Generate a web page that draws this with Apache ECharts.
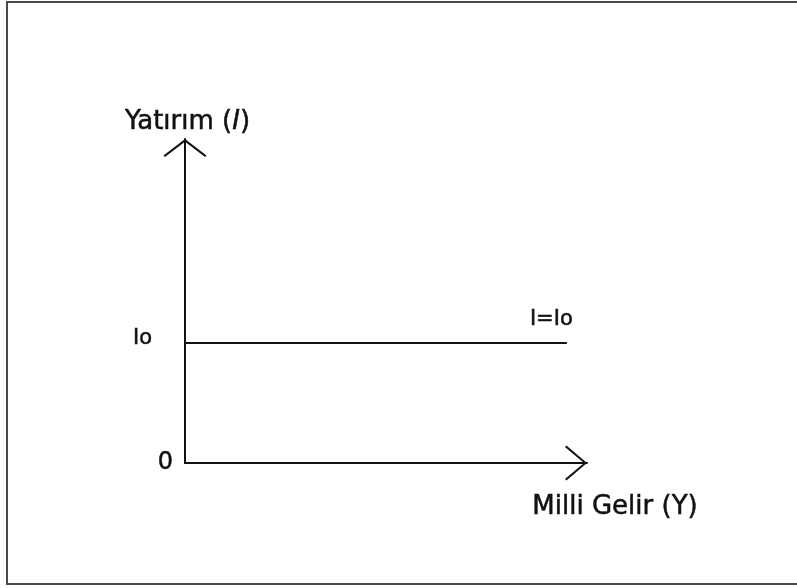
<!DOCTYPE html>
<html>
<head>
<meta charset="utf-8">
<script src="https://cdn.jsdelivr.net/npm/echarts@6/dist/echarts.min.js"></script>
<style>
  html, body { margin: 0; padding: 0; background: #fff; }
  #chart { width: 797px; height: 588px; }
</style>
</head>
<body>
<div id="chart"></div>
<script>
// scale of the sketch (arbitrary units)
const xRange = [0, 10];
const yRange = [0, 10];

// investment level Io and where the I=Io line stops
const ioLevel = 3.7;
const lineXs = [0, 9.5];

const yTickValues = [0, ioLevel];
const yTickLabels = ['0', '{io|Io}'];
const yName = 'Yatırım ({i|I})';
const xName = 'Milli Gelir (Y)';
const lineLabel = 'I=Io';

const ink = '#111';
const font = 'DejaVu Sans';
// a faint outline makes the text read a bit heavier, like the original
const heavy = { textBorderColor: ink, textBorderWidth: 0.5 };

// open chevron arrowheads, drawn pointing up
const yArrow = 'path://M21.5,0 L43,16.6 L41.6,18 L21.5,2.8 L1.4,18 L0,16.6 Z';
const xArrow = 'path://M17.5,0 L35,20.6 L33.6,22 L17.5,3 L1.4,22 L0,20.6 Z';

const chart = echarts.init(document.getElementById('chart'));

chart.setOption({
    animation: false,
    backgroundColor: '#fff',
    graphic: [
        {
            type: 'rect',
            shape: { x: 7, y: 2, width: 800, height: 582 },
            style: { fill: 'none', stroke: '#4a4a4a', lineWidth: 2 },
            silent: true,
        },
    ],
    grid: { left: 185, right: 210, top: 139, bottom: 125 },
    xAxis: {
        type: 'value',
        min: xRange[0],
        max: xRange[1],
        splitLine: { show: false },
        axisTick: { show: false },
        axisLabel: { show: false },
        axisLine: {
            show: true,
            onZero: false,
            symbol: ['none', xArrow],
            symbolSize: [35, 22],
            symbolOffset: [0, -11],
            lineStyle: { color: ink, width: 2 },
        },
        name: xName,
        nameLocation: 'end',
        nameGap: 28,
        nameTextStyle: Object.assign({
            fontFamily: font,
            fontSize: 26,
            color: ink,
            align: 'center',
            verticalAlign: 'top',
            padding: [31, 0, 0, 0],
        }, heavy),
    },
    yAxis: {
        type: 'value',
        min: yRange[0],
        max: yRange[1],
        splitLine: { show: false },
        axisTick: { show: false },
        axisLabel: Object.assign({
            show: true,
            customValues: yTickValues,
            formatter: (v) => yTickLabels[yTickValues.indexOf(v)] || '',
            margin: 12,
            fontFamily: font,
            fontSize: 24,
            color: ink,
            rich: {
                io: Object.assign({
                    fontFamily: font,
                    fontSize: 21,
                    color: ink,
                    padding: [0, 21, 10, 0],
                }, heavy),
            },
        }, heavy),
        axisLine: {
            show: true,
            onZero: false,
            symbol: ['none', yArrow],
            symbolSize: [43, 18],
            symbolOffset: [0, -9],
            lineStyle: { color: ink, width: 2 },
        },
        name: yName,
        nameLocation: 'end',
        nameGap: 4,
        nameTextStyle: Object.assign({
            fontFamily: font,
            fontSize: 26,
            color: ink,
            align: 'center',
            padding: [0, 0, 0, 5],
            rich: {
                i: Object.assign({ fontFamily: font, fontSize: 26, color: ink, fontStyle: 'italic' }, heavy),
            },
        }, heavy),
    },
    series: [
        {
            type: 'line',
            data: lineXs.map((x) => [x, ioLevel]),
            symbol: 'none',
            lineStyle: { color: ink, width: 2 },
            silent: true,
            endLabel: Object.assign({
                show: true,
                formatter: lineLabel,
                distance: 0,
                offset: [-37, -24],
                fontFamily: font,
                fontSize: 21,
                color: ink,
            }, heavy),
        },
    ],
});
</script>
</body>
</html>
